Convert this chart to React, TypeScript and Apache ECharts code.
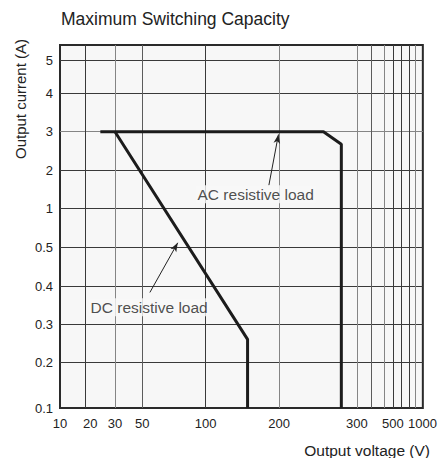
import React, { useEffect, useRef } from 'react';
import * as echarts from 'echarts';

// Scale break points of the (non-uniform) published axes
const xTicks = [10, 20, 30, 50, 100, 200, 300, 400, 500, 600, 700, 800, 900, 1000];
const xTickPos = [0, 25.7, 55, 82.3, 145.7, 219.3, 297, 311.7, 324, 333.3, 341.7, 349, 355, 362.7];
const xLabelValues = [10, 20, 30, 50, 100, 200, 300, 500, 1000];
const yTicks = [0.1, 0.2, 0.3, 0.4, 0.5, 1, 2, 3, 4, 5];
const yTickPos = [0, 45.7, 84, 122, 161, 199.3, 237.3, 276.3, 314.7, 347.7];
const yLabelValues = [0.1, 0.2, 0.3, 0.4, 0.5, 1, 2, 3, 4, 5];

// Curves (voltage V, current A)
const acVoltage = [25, 257, 280, 280];
const acCurrent = [3, 3, 2.68, 0.1];
const dcVoltage = [30, 157, 157];
const dcCurrent = [3, 0.26, 0.1];

// Annotations (data units)
const annotationLabels = ['AC resistive load', 'DC resistive load'];
const annotationVoltage = [168, 55.4];
const annotationCurrent = [1.38, 0.344];
const arrowFromVoltage = [186, 56];
const arrowFromCurrent = [1.62, 0.383];
const arrowToVoltage = [199, 78];
const arrowToCurrent = [2.93, 0.555];

const FONT = '"Liberation Sans", Arial, Helvetica, sans-serif';
const DARK = '#3a3a3a';
const GRAY = '#858585';
const MID = '#5c5c5c';

function scale(v: number, ticks: number[], pos: number[]): number {
  for (let i = 0; i < ticks.length - 1; i++) {
    if (v <= ticks[i + 1] || i === ticks.length - 2) {
      const t = (v - ticks[i]) / (ticks[i + 1] - ticks[i]);
      return pos[i] + t * (pos[i + 1] - pos[i]);
    }
  }
  return pos[0];
}
const toX = (v: number) => scale(v, xTicks, xTickPos);
const toY = (v: number) => scale(v, yTicks, yTickPos);

export default function App() {
  const ref = useRef<HTMLDivElement>(null);
  useEffect(() => {
    document.body.style.margin = '0';
    if (!ref.current) return;
    const chart = echarts.init(ref.current, undefined, { renderer: 'svg' });

    const xInner = xTicks.slice(1, -1);
    const yInner = yTicks.slice(1);
    const xLineColors = [DARK, GRAY, MID, DARK, GRAY, GRAY, MID, GRAY, DARK, DARK, DARK, GRAY];
    const yLineColors = yInner.map((v) => (v === 3 ? GRAY : DARK));

    const option: any = {
      animation: false,
      backgroundColor: '#ffffff',
      textStyle: { fontFamily: FONT },
      title: {
        text: 'Maximum Switching Capacity',
        left: 61,
        top: 10,
        padding: 0,
        textStyle: { fontFamily: FONT, fontSize: 17.5, fontWeight: 'normal', color: '#222' },
      },
      grid: {
        left: 60,
        right: 17,
        top: 45,
        bottom: 50,
        show: true,
        backgroundColor: '#f7f7f7',
        borderColor: '#2a2a2a',
        borderWidth: 2,
      },
      xAxis: {
        type: 'value',
        min: 0,
        max: 363,
        axisLine: { show: false },
        axisTick: { show: false, customValues: xInner.map(toX) },
        splitLine: { show: true, lineStyle: { color: xLineColors, width: 1 } },
        axisLabel: {
          customValues: xLabelValues.map(toX),
          showMinLabel: true,
          showMaxLabel: true,
          margin: 9,
          fontFamily: FONT,
          fontSize: 13,
          color: '#222',
          formatter: (u: number) => {
            const i = xLabelValues.findIndex((v) => Math.abs(toX(v) - u) < 0.05);
            if (i < 0) return '';
            const v = xLabelValues[i];
            if (v === 500) return '{s9|500}';
            if (v === 20) return '{s4|20}';
            return String(v);
          },
          rich: {
            s9: { fontFamily: FONT, fontSize: 13, color: '#222', padding: [0, 0, 0, 18] },
            s4: { fontFamily: FONT, fontSize: 13, color: '#222', padding: [0, 0, 0, 9] },
          },
        },
      },
      yAxis: {
        type: 'value',
        min: 0,
        max: 363,
        axisLine: { show: false },
        axisTick: { show: false, customValues: yInner.map(toY) },
        splitLine: { show: true, lineStyle: { color: yLineColors, width: 1 } },
        axisLabel: {
          customValues: yLabelValues.map(toY),
          showMinLabel: true,
          showMaxLabel: true,
          margin: 7,
          fontFamily: FONT,
          fontSize: 13,
          color: '#222',
          formatter: (u: number) => {
            const i = yLabelValues.findIndex((v) => Math.abs(toY(v) - u) < 0.05);
            return i < 0 ? '' : String(yLabelValues[i]);
          },
        },
      },
      graphic: [
        {
          type: 'text',
          x: 20,
          y: 99,
          rotation: Math.PI / 2,
          style: {
            text: 'Output current (A)',
            fontFamily: FONT,
            fontSize: 15,
            fill: '#222',
            align: 'center',
            verticalAlign: 'middle',
          },
        },
        {
          type: 'text',
          x: 430,
          y: 450,
          style: {
            text: 'Output voltage (V)',
            fontFamily: FONT,
            fontSize: 15.5,
            fill: '#222',
            align: 'right',
            verticalAlign: 'middle',
          },
        },
      ],
      series: [
        {
          name: 'AC resistive load',
          type: 'line',
          data: acVoltage.map((v, i) => [toX(v), toY(acCurrent[i])]),
          showSymbol: false,
          symbol: 'none',
          lineStyle: { color: '#1c1c1c', width: 3 },
          z: 4,
        },
        {
          name: 'DC resistive load',
          type: 'line',
          data: dcVoltage.map((v, i) => [toX(v), toY(dcCurrent[i])]),
          showSymbol: false,
          symbol: 'none',
          lineStyle: { color: '#1c1c1c', width: 3 },
          z: 4,
        },
        {
          name: 'annotations',
          type: 'scatter',
          symbolSize: 1,
          itemStyle: { color: 'rgba(0,0,0,0)' },
          data: annotationLabels.map((t, i) => [toX(annotationVoltage[i]), toY(annotationCurrent[i]), t]),
          label: {
            show: true,
            position: 'inside',
            formatter: (p: any) => p.data[2],
            fontFamily: FONT,
            fontSize: 15.5,
            color: '#222',
            backgroundColor: '#f7f7f7',
            padding: [1, 2],
          },
          z: 3,
          markLine: {
            silent: true,
            symbol: ['none', 'arrow'],
            symbolSize: [5, 9],
            lineStyle: { color: '#222', width: 1, type: 'solid' },
            label: { show: false },
            data: arrowFromVoltage.map((v, i) => [
              { coord: [toX(v), toY(arrowFromCurrent[i])] },
              { coord: [toX(arrowToVoltage[i]), toY(arrowToCurrent[i])] },
            ]),
          },
        },
      ],
    };
    chart.setOption(option);
    return () => chart.dispose();
  }, []);
  return <div ref={ref} style={{ width: 440, height: 458 }} />;
}
